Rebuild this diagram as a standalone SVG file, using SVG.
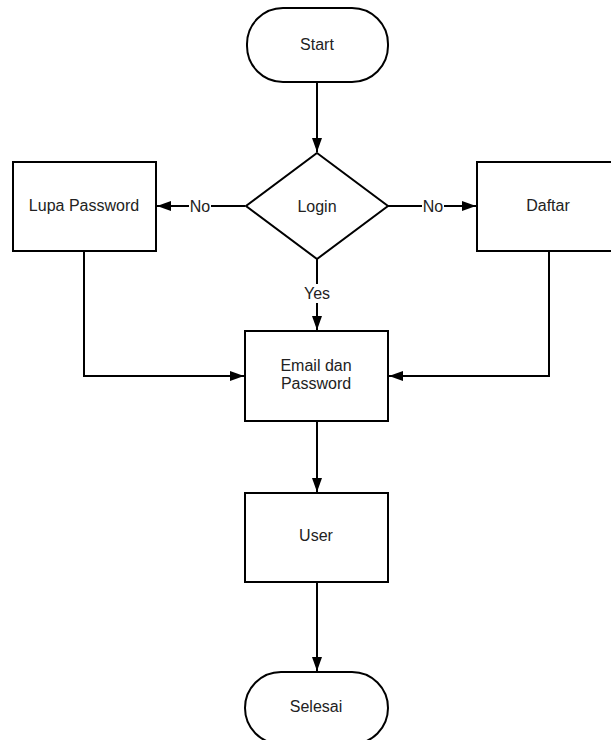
<svg xmlns="http://www.w3.org/2000/svg" width="611" height="740" viewBox="0 0 611 740">
<style>
.shape{fill:#fff;stroke:#000;stroke-width:2}
.conn{fill:none;stroke:#000;stroke-width:2}
text{font-family:"Liberation Sans",Arial,sans-serif;font-size:16px;fill:#222;text-anchor:middle;dominant-baseline:central}
.lbl{fill:#fff;stroke:none}
</style>
<defs>
<marker id="arr" viewBox="0 0 14 10" refX="14" refY="5" markerWidth="14" markerHeight="10" markerUnits="userSpaceOnUse" orient="auto">
<path d="M0,0 L14,5 L0,10 Z" fill="#000"/>
</marker>
</defs>
<rect width="611" height="740" fill="#fff"/>
<g id="connectors">
<path class="conn" d="M317,82 V152" marker-end="url(#arr)"/>
<path class="conn" d="M245,206 H157" marker-end="url(#arr)"/>
<path class="conn" d="M388,206 H476" marker-end="url(#arr)"/>
<path class="conn" d="M317,259 V330" marker-end="url(#arr)"/>
<path class="conn" d="M84,251 V376 H244" marker-end="url(#arr)"/>
<path class="conn" d="M549,251 V376 H389" marker-end="url(#arr)"/>
<path class="conn" d="M317,421 V492" marker-end="url(#arr)"/>
<path class="conn" d="M317,582 V671" marker-end="url(#arr)"/>
<rect class="lbl" x="189" y="197" width="22" height="18"/>
<text x="200" y="206">No</text>
<rect class="lbl" x="422" y="197" width="22" height="18"/>
<text x="433" y="206">No</text>
<rect class="lbl" x="303" y="284" width="28" height="19"/>
<text x="317" y="293">Yes</text>
</g>
<g id="start">
<rect class="shape" x="247" y="8" width="141" height="74" rx="36" ry="36"/>
<text x="317" y="44">Start</text>
</g>
<g id="login">
<path class="shape" d="M317,153 L388,206 L317,259 L246,206 Z"/>
<text x="317" y="206">Login</text>
</g>
<g id="lupa">
<rect class="shape" x="13" y="162" width="143" height="89"/>
<text x="84" y="205">Lupa Password</text>
</g>
<g id="daftar">
<rect class="shape" x="477" y="162" width="143" height="89"/>
<text x="548" y="205">Daftar</text>
</g>
<g id="email">
<rect class="shape" x="245" y="331" width="143" height="90"/>
<text x="316" y="365">Email dan</text>
<text x="316" y="383">Password</text>
</g>
<g id="user">
<rect class="shape" x="245" y="493" width="143" height="89"/>
<text x="316" y="535">User</text>
</g>
<g id="selesai">
<rect class="shape" x="245" y="672" width="143" height="72" rx="36" ry="36"/>
<text x="316" y="706">Selesai</text>
</g>
</svg>
